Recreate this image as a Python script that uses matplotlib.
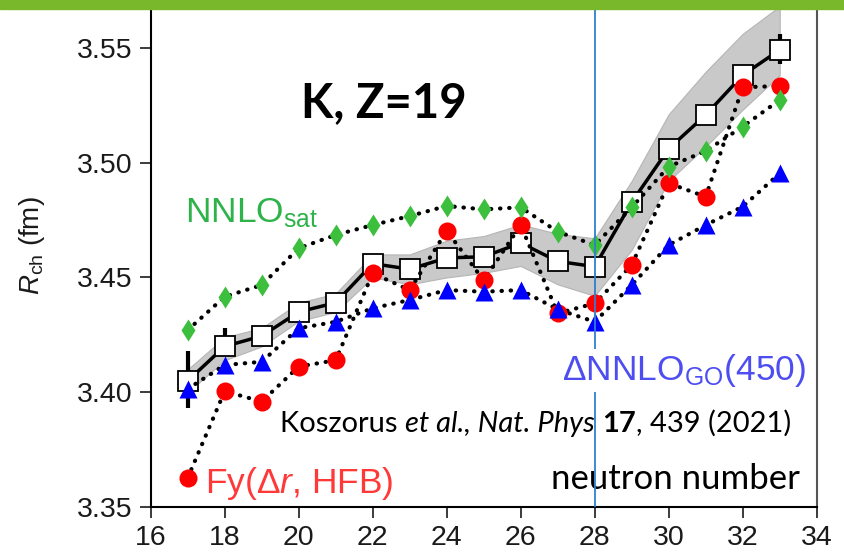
import matplotlib
matplotlib.use('Agg')
import matplotlib.pyplot as plt
from matplotlib import transforms
import numpy as np

plt.rcParams['font.family'] = ['Liberation Sans', 'DejaVu Sans']
plt.rcParams['mathtext.fontset'] = 'custom'
plt.rcParams['mathtext.rm'] = 'Liberation Sans'
plt.rcParams['mathtext.it'] = 'Liberation Sans:italic'
plt.rcParams['mathtext.bf'] = 'Liberation Sans:bold'

# neutron number
N = [17, 18, 19, 20, 21, 22, 23, 24, 25, 26, 27, 28, 29, 30, 31, 32, 33]

# experiment (Koszorus et al.)
r_exp = [3.405, 3.420, 3.4245, 3.435, 3.439, 3.456, 3.4536, 3.4585, 3.459,
         3.465, 3.457, 3.4547, 3.4827, 3.506, 3.5207, 3.538, 3.549]
err_N = [17, 18, 33]
err_lo = [0.012, 0.004, 0.006]
err_hi = [0.013, 0.008, 0.007]

# shaded band
band_lo = [3.400, 3.414, 3.420, 3.431, 3.435, 3.450, 3.447, 3.450, 3.452,
           3.455, 3.447, 3.442, 3.462, 3.492, 3.507, 3.523, 3.538]
band_hi = [3.410, 3.424, 3.428, 3.439, 3.443, 3.460, 3.460, 3.466, 3.468,
           3.473, 3.469, 3.467, 3.492, 3.521, 3.5395, 3.556, 3.568]

# Fy(dr, HFB)
r_fy = [3.3628, 3.4005, 3.396, 3.4112, 3.414, 3.4518, 3.4445, 3.4703, 3.4487,
        3.4728, 3.4344, 3.4387, 3.4554, 3.491, 3.4851, 3.5327, 3.5333]
# dNNLO_GO(450)
r_go = [3.4015, 3.4119, 3.4133, 3.4279, 3.4307, 3.4366, 3.4402, 3.4445, 3.4438,
        3.4445, 3.4361, 3.4307, 3.4467, 3.4641, 3.4728, 3.4808, 3.4953]
# NNLO_sat
r_sat = [3.4271, 3.4416, 3.4467, 3.4627, 3.4685, 3.4728, 3.4767, 3.4811, 3.4796,
         3.4805, 3.4699, 3.4641, 3.4805, 3.4982, 3.505, 3.5156, 3.5272]

fig = plt.figure(figsize=(8.44, 5.56), dpi=100)
ax = fig.add_axes([150.7 / 844, 1 - 507.3 / 556, 666 / 844, 501.1 / 556])

ax.fill_between(N, band_lo, band_hi, color='#c9c9c9', edgecolor='#b5b5b5', lw=0.8, zorder=1)

dots = dict(ls=(0, (0.1, 2.1)), lw=3, color='black', dash_capstyle='round', zorder=3)
ax.plot(N, r_fy, **dots)
ax.plot(N, r_go, **dots)
ax.plot(N, r_sat, **dots)

ax.plot(N, r_exp, color='black', lw=2.5, zorder=2)
err_val = [r_exp[N.index(n)] for n in err_N]
ax.errorbar(err_N, err_val, yerr=[err_lo, err_hi], fmt='none', ecolor='black',
            elinewidth=3, capsize=0, zorder=2)
ax.plot(N, r_exp, ls='none', marker='s', ms=14, mfc='white', mec='black', mew=1.3, zorder=2.5)

ax.plot(N, r_fy, ls='none', marker='o', ms=13, color='#ff0000', mec='none', zorder=4)
ax.plot(N, r_sat, ls='none', marker='d', ms=11.5, color='#3cbf3c', mec='none', zorder=4)
ax.plot(N, r_go, ls='none', marker='^', ms=12.5, color='#0000ff', mec='none', zorder=4)

ax.axvline(28, color='#2f7fd0', lw=1.3, zorder=6)

ax.set_xlim(16, 34)
ax.set_ylim(3.35, 3.568)
ax.set_xticks(np.arange(16, 35, 2))
ax.set_yticks([3.35, 3.40, 3.45, 3.50, 3.55])
ax.set_yticklabels(['3.35', '3.40', '3.45', '3.50', '3.55'])
ax.tick_params(direction='out', length=8, width=1.2, labelsize=20.5, colors='#1a1a1a', pad=5)
ax.spines['top'].set_visible(False)
ax.spines['left'].set_linewidth(1.5)
ax.spines['bottom'].set_linewidth(1.5)
ax.spines['right'].set_color('#555555')
ax.spines['right'].set_linewidth(1.5)

fig.text(32 / 844, 1 - 246 / 556, r'$R_{\rm ch}$ (fm)', rotation=90, fontsize=20,
         ha='center', va='center', color='#1a1a1a')

ax.text(20.05, 3.5259, 'K, Z=19', fontsize=34, fontweight='bold', family='Lato',
        ha='left', va='center')
ax.text(16.93, 3.4741, r'NNLO$_{\rm sat}$', fontsize=25.5, color='#2eb34a', ha='left', va='baseline')
ax.text(27.12, 3.4054, r'ΔNNLO$_{\rm GO}$(450)', fontsize=25.5, color='#4d4df2', ha='left', va='baseline',
        zorder=7, bbox=dict(facecolor='white', edgecolor='none', pad=2))
ax.text(17.47, 3.3562, r'Fy(Δ$\mathit{r}$, HFB)', fontsize=25.5, color='#ff3838', ha='left', va='baseline')

ax.text(33.55, 3.358, 'neutron number', fontsize=25, family='Lato', ha='right', va='baseline')

# citation with mixed styles
pieces = [('Koszorus ', 'normal', 'normal'), ('et al., Nat. Phys', 'italic', 'normal'),
          (' ', 'normal', 'normal'), ('17', 'normal', 'bold'), (', 439 (2021)', 'normal', 'normal')]
renderer = fig.canvas.get_renderer()
trans = ax.transData
xc, yc = 19.5, 3.3829
for s, st, wt in pieces:
    t = ax.text(xc, yc, s, fontsize=21, family='Lato', style=st, fontweight=wt,
                ha='left', va='baseline', transform=trans, zorder=5)
    ext = t.get_window_extent(renderer)
    trans = transforms.offset_copy(t.get_transform(), fig=fig, x=ext.width, units='dots')

# green bar on top
fig.add_artist(plt.Rectangle((0, 1 - 9 / 556), 1, 9 / 556, transform=fig.transFigure,
                             color='#78b82a', zorder=10))

plt.savefig('out.png', dpi=100)
